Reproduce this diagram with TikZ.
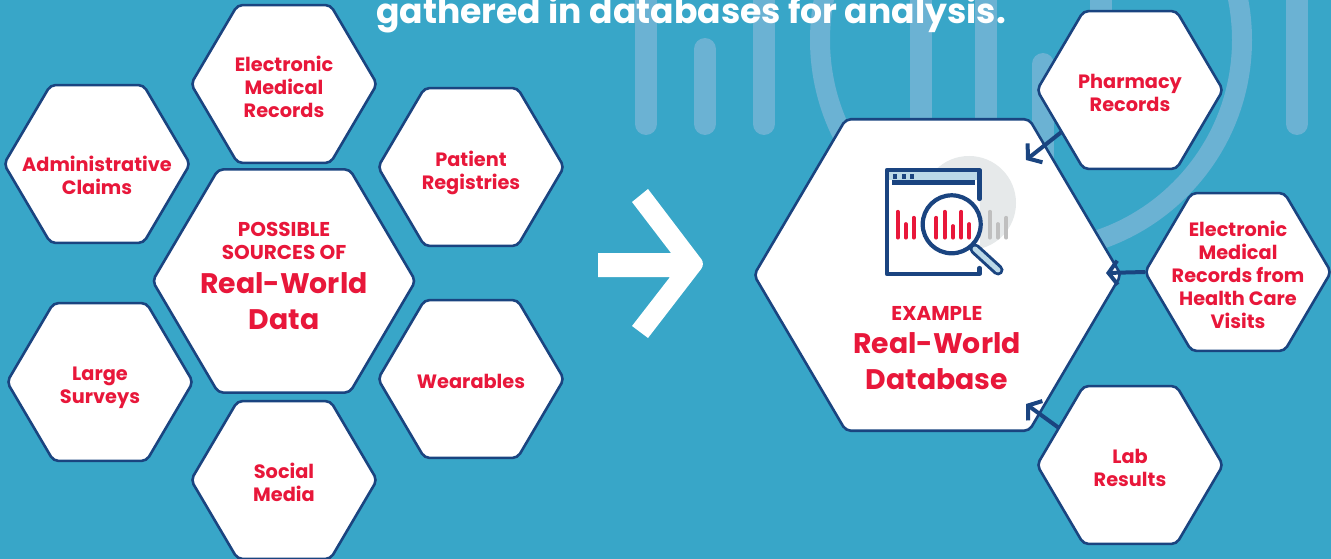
\documentclass[tikz,border=0pt]{standalone}
\usepackage{fontspec}
\setmainfont{Poppins}
\usetikzlibrary{arrows.meta,shapes.geometric}
\definecolor{bgblue}{HTML}{38A6C8}
\definecolor{pillblue}{HTML}{6BB2D3}
\definecolor{navy}{HTML}{1A4480}
\definecolor{hexred}{HTML}{E8173A}
\definecolor{paleblue}{HTML}{BBD9E8}
\definecolor{lensgrey}{HTML}{E6E9EA}
\tikzset{
  hexbox/.style={regular polygon,regular polygon sides=6,draw=navy,fill=white,line width=2.6pt,
    rounded corners=5pt,inner sep=0pt,outer sep=0pt,minimum size=#1,yscale=.98,transform shape},
  smallhex/.style={hexbox=186},
  hextext/.style={text=hexred,align=center,font=\fontsize{19.3}{23}\selectfont\bfseries,inner sep=0pt,yshift=-2.5pt},
  captext/.style={text=hexred,align=center,font=\fontsize{20}{23}\selectfont\bfseries,inner sep=0pt},
  bigtext/.style={text=hexred,align=center,font=\fontsize{28.3}{36}\selectfont\bfseries,inner sep=0pt},
  pill/.style={line width=22pt,line cap=round,draw=pillblue},
  bar/.style={line width=3.7pt,line cap=round,draw=hexred},
  greybar/.style={bar,draw=black!25},
  link/.style={draw=navy,line width=4pt,-{Straight Barb[length=9pt,width=24pt,line width=4pt]}}
}
\begin{document}
\begin{tikzpicture}[x=1pt,y=-1pt]
  \useasboundingbox (0,0) rectangle (1331,559);
  \clip (0,0) rectangle (1331,559);
  \fill[bgblue] (0,0) rectangle (1331,559);
  \foreach \px/\ptop/\pbot in {646/-20/124,705/49/124,764/-20/124,921/-20/200,986/-20/200,1043/64/200,1101/-20/60,1297/-20/124}
    \draw[pill] (\px,\ptop) -- (\px,\pbot);
  \draw[draw=pillblue,line width=20pt] (1031,40) circle (211);
  \node[text=white,font=\fontsize{34.6}{40}\selectfont\bfseries,inner sep=0pt] (title) at (691,14) {gathered in databases for analysis.};

  \node[smallhex,label={[hextext]center:Electronic\\Medical\\Records}] (emr) at (284,84) {};
  \node[smallhex,label={[hextext,yshift=-8.5pt]center:Administrative\\Claims}] (claims) at (97,164) {};
  \node[smallhex,label={[hextext,yshift=-3pt]center:Patient\\Registries}] (registries) at (471,167) {};
  \node[smallhex,label={[hextext,yshift=-3pt]center:Large\\Surveys}] (surveys) at (100,382) {};
  \node[smallhex,label={[hextext]center:Wearables}] (wearables) at (471,379) {};
  \node[smallhex,label={[hextext]center:Social\\Media}] (social) at (284,480) {};
  \node[hexbox=263] (sources) at (284,281) {};
  \node[captext] (sourcescap) at (284,240.5) {POSSIBLE\\SOURCES OF};
  \node[bigtext] (sourcesname) at (284,301) {Real-World\\Data};

  \fill[white] (598,253) -- (671,253) -- (632,202) -- (648,189) [rounded corners=6pt] -- (705,264) [sharp corners] -- (648,338) -- (632,326) -- (670,277) -- (598,277) -- cycle;

  \node[hexbox=367] (database) at (937.5,275) {};
  \node[smallhex,label={[hextext]center:Pharmacy\\Records}] (pharmacy) at (1130,90) {};
  \node[smallhex,label={[hextext]center:Electronic\\Medical\\Records from\\Health Care\\Visits}] (visits) at (1238,272) {};
  \node[smallhex,label={[hextext]center:Lab\\Results}] (lab) at (1130,465) {};
  \node[captext] (dbcap) at (937,313) {EXAMPLE};
  \node[bigtext] (dbname) at (937,361) {Real-World\\Database};

  \coordinate (intopharmacy) at (1026,160);
  \coordinate (intovisits) at (1106,273);
  \coordinate (intolab) at (1026,404);
  \draw[link] (pharmacy.212) -- (intopharmacy);
  \draw[link] (visits.west) -- (intovisits);
  \draw[link] (lab.152) -- (intolab);

  \fill[lensgrey] (969,203) circle (47);
  \fill[white] (887,170) rectangle (979.5,274);
  \fill[paleblue] (889,172) rectangle (977,180);
  \fill[navy] (892,180) rectangle (975,185);
  \foreach \dx in {893,902,910}
    \fill[navy] (\dx,174) rectangle ++(4,5);
  \draw[navy,line width=4.2pt,line cap=round,line join=round] (979.5,199) -- (979.5,170) -- (887,170) -- (887,274) -- (979.5,274) -- (979.5,268);
  \foreach \bx/\btop in {897.7/211.7,905.7/224,913.7/217.7}
    \draw[bar] (\bx,\btop) -- (\bx,237.7);
  \foreach \bx/\btop in {990/211.7,998/224,1006.3/217.7}
    \draw[greybar] (\bx,\btop) -- (\bx,237.7);
  \draw[navy,line width=11pt,line cap=round] (975,249) -- (998,270);
  \draw[paleblue,line width=5pt,line cap=round] (975,249) -- (998,270);
  \draw[navy,fill=white,line width=4.2pt] (951.7,224.3) circle (29);
  \foreach \bx/\btop in {936.3/217.7,944.7/211.7,953/226,961.3/211.7,969.3/224}
    \draw[bar] (\bx,\btop) -- (\bx,237.7);
\end{tikzpicture}
\end{document}
